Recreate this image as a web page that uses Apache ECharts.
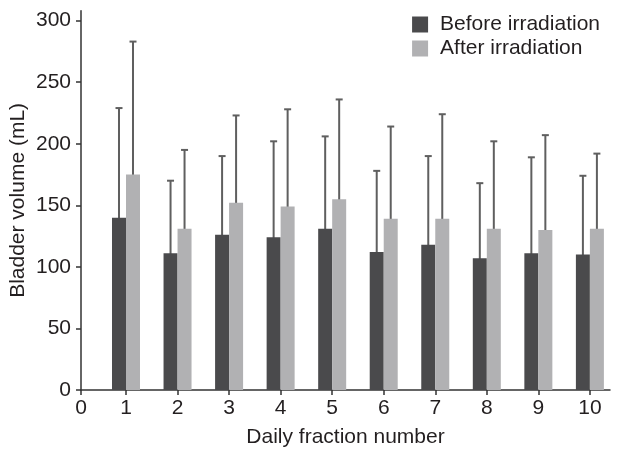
<!DOCTYPE html>
<html>
<head>
<meta charset="utf-8">
<script src="https://cdn.jsdelivr.net/npm/echarts@6/dist/echarts.min.js"></script>
<style>
html, body { margin: 0; padding: 0; background: #fff; }
#chart { width: 625px; height: 456px; }
</style>
</head>
<body>
<div id="chart"></div>
<script>
var fractions = [1, 2, 3, 4, 5, 6, 7, 8, 9, 10]
var beforeMean = [140, 111, 126, 124, 131, 112, 118, 107, 111, 110]
var beforeUpper = [229, 170, 190, 202, 206, 178, 190, 168, 189, 174]
var afterMean = [175, 131, 152, 149, 155, 139, 139, 131, 130, 131]
var afterUpper = [283, 195, 223, 228, 236, 214, 224, 202, 207, 192]
var xTicks = [0.127, 1, 2, 3, 4, 5, 6, 7, 8, 9, 10]
var yTicks = [0, 50, 100, 150, 200, 250, 300]

var font = 'Liberation Sans, Arial, sans-serif'
var textColor = '#231f20'
var darkColor = '#4a4a4c'
var lightColor = '#b1b1b3'
var errColor = '#5f5f5f'
var barW = 14

function pairs(xs, ys) {
    return xs.map(function (x, i) { return [x, ys[i]] })
}

// upper error whisker, drawn at the centre of its bar
function errorBar(side) {
    return function (params, api) {
        var top = api.coord([api.value(0), api.value(1)])
        var base = api.coord([api.value(0), api.value(2)])
        var x = top[0] + side * barW / 2
        var style = { stroke: errColor, lineWidth: 2 }
        return {
            type: 'group',
            children: [
                { type: 'line', shape: { x1: x, y1: base[1], x2: x, y2: top[1] }, style: style },
                { type: 'line', shape: { x1: x - 3.5, y1: top[1], x2: x + 3.5, y2: top[1] }, style: style }
            ]
        }
    }
}

var chart = echarts.init(document.getElementById('chart'))
var option = {
    animation: false,
    textStyle: { fontFamily: font },
    grid: { left: 81, right: 15, top: 10.8, bottom: 66, outerBoundsMode: 'none' },
    legend: {
        data: ['Before irradiation', 'After irradiation'],
        orient: 'vertical',
        right: 20,
        top: 9,
        icon: 'rect',
        itemWidth: 16,
        itemHeight: 16,
        itemGap: 3,
        textStyle: { fontSize: 21, color: textColor, fontFamily: font, padding: [0, 0, 0, 7] }
    },
    xAxis: {
        type: 'value',
        min: 0.127,
        max: 10.39,
        name: 'Daily fraction number',
        nameLocation: 'middle',
        nameGap: 37,
        nameMoveOverlap: false,
        nameTextStyle: { fontSize: 21, color: textColor, fontFamily: font },
        axisLine: { lineStyle: { color: '#333', width: 1.5 } },
        axisTick: { customValues: xTicks, length: 5, lineStyle: { color: '#333', width: 1.5 } },
        axisLabel: {
            customValues: xTicks,
            fontSize: 21, color: textColor, margin: 8,
            formatter: function (v) { return v < 0.5 ? '0' : String(Math.round(v)) }
        },
        splitLine: { show: false }
    },
    yAxis: {
        type: 'value',
        min: 0,
        max: 308,
        name: 'Bladder volume (mL)',
        nameLocation: 'middle',
        nameGap: 52,
        nameMoveOverlap: false,
        nameTextStyle: { fontSize: 21, color: textColor, fontFamily: font },
        axisLine: { show: true, lineStyle: { color: '#333', width: 1.5 } },
        axisTick: { show: true, customValues: yTicks, length: 5, lineStyle: { color: '#333', width: 1.5 } },
        axisLabel: { customValues: yTicks, fontSize: 21, color: textColor, margin: 10 },
        splitLine: { show: false }
    },
    series: [
        {
            name: 'Before irradiation',
            type: 'custom',
            renderItem: errorBar(-1),
            data: fractions.map(function (x, i) { return [x, beforeUpper[i], 0] }),
            itemStyle: { color: darkColor },
            z: 1
        },
        {
            name: 'After irradiation',
            type: 'custom',
            renderItem: errorBar(1),
            data: fractions.map(function (x, i) { return [x, afterUpper[i], 0] }),
            itemStyle: { color: lightColor },
            z: 1
        },
        {
            name: 'Before irradiation',
            type: 'bar',
            data: pairs(fractions, beforeMean),
            barWidth: barW,
            barGap: '0%',
            itemStyle: { color: darkColor },
            z: 3
        },
        {
            name: 'After irradiation',
            type: 'bar',
            data: pairs(fractions, afterMean),
            barWidth: barW,
            barGap: '0%',
            itemStyle: { color: lightColor },
            z: 3
        }
    ]
}
chart.setOption(option)
</script>
</body>
</html>
